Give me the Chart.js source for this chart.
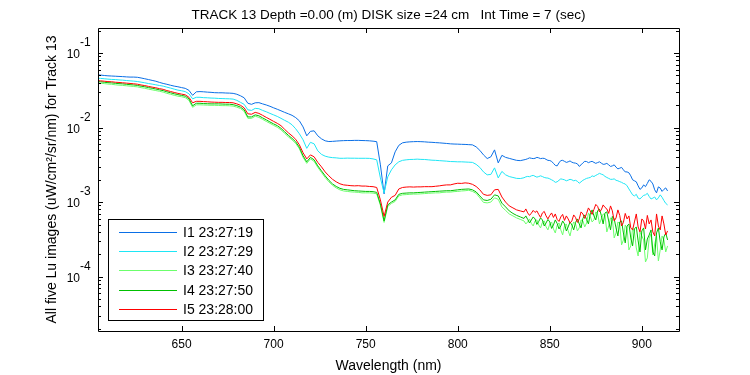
<!DOCTYPE html>
<html>
<head>
<meta charset="utf-8">
<script src="https://cdn.jsdelivr.net/npm/chart.js@4.4.1/dist/chart.umd.min.js"></script>
<style>
html,body{margin:0;padding:0;background:#fff;}
canvas{display:block;}
</style>
</head>
<body>
<canvas id="c" width="750" height="375"></canvas>
<script>
// ---------------- DATA ----------------
const wavelength = [
604,606,608,610,612,614,616,618,620,622,624,626,628,630,632,634,636,638,640,642,
644,646,648,650,652,654,656,658,660,662,664,666,668,670,672,674,676,678,680,682,
684,686,688,690,692,694,696,698,700,702,704,706,708,710,712,714,716,718,720,722,
724,726,728,730,732,734,736,738,740,742,744,746,748,750,752,754,756,758,760,762,
764,766,768,770,772,774,776,778,780,782,784,786,788,790,792,794,796,798,800,802,
804,806,808,810,812,814,816,818,820,822,824,826,828,830,832,834,
836,837,838,839,840,841,842,843,844,845,846,847,848,849,850,851,852,853,854,855,
856,857,858,859,860,861,862,863,864,865,866,867,868,869,870,871,872,873,874,875,
876,877,878,879,880,881,882,883,884,885,886,887,888,889,890,891,892,893,894,895,
896,897,898,899,900,901,902,903,904,905,906,907,908,909,910,911,912,913,914];

const I1 = [
0.0511,0.0506,0.0500,0.0495,0.0492,0.0489,0.0486,0.0483,0.0479,0.0476,
0.0476,0.0473,0.0463,0.0452,0.0441,0.0430,0.0419,0.0404,0.0391,0.0381,
0.0370,0.0360,0.0353,0.0344,0.0336,0.0316,0.0271,0.0302,0.0304,0.0302,
0.0299,0.0297,0.0294,0.0293,0.0293,0.0291,0.0290,0.0288,0.0280,0.0267,
0.0251,0.0212,0.0205,0.0215,0.0216,0.0208,0.0201,0.0193,0.0184,0.0176,
0.0168,0.0160,0.0153,0.0146,0.0136,0.0123,0.0102,0.00775,0.00890,0.00904,
0.00775,0.00706,0.00664,0.00649,0.00653,0.00659,0.00664,0.00668,0.00670,0.00670,
0.00673,0.00673,0.00670,0.00668,0.00664,0.00657,0.00647,0.00316,0.00129,0.00306,
0.00336,0.00472,0.00577,0.00624,0.00637,0.00643,0.00647,0.00649,0.00647,0.00643,
0.00637,0.00634,0.00628,0.00624,0.00618,0.00612,0.00605,0.00601,0.00599,0.00596,
0.00594,0.00590,0.00586,0.00551,0.00495,0.00430,0.00384,0.00405,0.00502,0.00336,
0.00424,0.00398,0.00386,0.00374,0.00363,0.00360,
0.00369,0.00374,0.00382,0.00392,0.00387,0.00383,0.00387,0.00398,0.00392,0.00383,
0.00387,0.00386,0.00374,0.00363,0.00361,0.00352,0.00331,0.00311,0.00306,0.00336,
0.00361,0.00363,0.00352,0.00341,0.00347,0.00357,0.00343,0.00336,0.00333,0.00326,
0.00301,0.00316,0.00336,0.00352,0.00350,0.00338,0.00347,0.00352,0.00341,0.00331,
0.00339,0.00347,0.00333,0.00321,0.00323,0.00331,0.00316,0.00301,0.00306,0.00316,
0.00294,0.00279,0.00285,0.00292,0.00271,0.00254,0.00254,0.00247,0.00225,0.00199,
0.00193,0.00187,0.00165,0.00148,0.00155,0.00170,0.00161,0.00178,0.00199,0.00190,
0.00175,0.00146,0.00133,0.00160,0.00154,0.00139,0.00148,0.00155,0.00141];

const I2 = [
0.0461,0.0457,0.0452,0.0447,0.0443,0.0441,0.0436,0.0433,0.0428,0.0424,
0.0420,0.0415,0.0407,0.0399,0.0390,0.0383,0.0375,0.0367,0.0360,0.0349,
0.0339,0.0328,0.0318,0.0312,0.0304,0.0284,0.0243,0.0255,0.0255,0.0252,
0.0251,0.0249,0.0248,0.0246,0.0245,0.0244,0.0243,0.0241,0.0232,0.0218,
0.0205,0.0173,0.0170,0.0181,0.0179,0.0170,0.0163,0.0155,0.0148,0.0141,
0.0133,0.0125,0.0118,0.0109,0.00962,0.00824,0.00684,0.00526,0.00634,0.00605,
0.00487,0.00437,0.00413,0.00401,0.00395,0.00392,0.00387,0.00387,0.00389,0.00388,
0.00388,0.00387,0.00387,0.00387,0.00386,0.00380,0.00369,0.00211,0.00133,0.00218,
0.00271,0.00316,0.00347,0.00363,0.00369,0.00373,0.00374,0.00377,0.00374,0.00373,
0.00369,0.00365,0.00363,0.00360,0.00357,0.00354,0.00350,0.00349,0.00347,0.00347,
0.00345,0.00343,0.00341,0.00321,0.00292,0.00254,0.00232,0.00235,0.00288,0.00211,
0.00258,0.00232,0.00220,0.00214,0.00208,0.00207,
0.00212,0.00218,0.00221,0.00219,0.00225,0.00228,0.00222,0.00216,0.00220,0.00225,
0.00220,0.00214,0.00211,0.00210,0.00205,0.00199,0.00193,0.00184,0.00187,0.00196,
0.00205,0.00202,0.00199,0.00193,0.00197,0.00202,0.00199,0.00193,0.00196,0.00190,
0.00179,0.00187,0.00196,0.00202,0.00208,0.00211,0.00214,0.00225,0.00220,0.00228,
0.00235,0.00243,0.00237,0.00232,0.00221,0.00214,0.00208,0.00202,0.00202,0.00205,
0.00196,0.00193,0.00188,0.00184,0.00178,0.00175,0.00165,0.00150,0.00137,0.00125,
0.00121,0.00127,0.00113,0.00110,0.00117,0.00123,0.00125,0.00131,0.00119,0.00110,
0.00113,0.00117,0.00107,0.00114,0.00125,0.00116,0.00105,0.000960,0.000916];

const I3 = [
0.0399,0.0394,0.0389,0.0384,0.0381,0.0375,0.0371,0.0368,0.0364,0.0360,
0.0356,0.0352,0.0343,0.0337,0.0328,0.0321,0.0314,0.0307,0.0299,0.0288,
0.0280,0.0271,0.0264,0.0259,0.0252,0.0232,0.0187,0.0202,0.0202,0.0201,
0.0200,0.0199,0.0199,0.0198,0.0197,0.0197,0.0196,0.0194,0.0188,0.0180,
0.0165,0.0133,0.0133,0.0142,0.0137,0.0129,0.0121,0.0114,0.0107,0.0101,
0.00933,0.00837,0.00751,0.00684,0.00614,0.00518,0.00398,0.00331,0.00380,0.00352,
0.00292,0.00250,0.00214,0.00187,0.00168,0.00155,0.00146,0.00141,0.00139,0.00137,
0.00136,0.00135,0.00133,0.00133,0.00133,0.00132,0.00129,0.000902,0.000533,0.000875,
0.000960,0.00102,0.00121,0.00125,0.00126,0.00127,0.00128,0.00128,0.00129,0.00130,
0.00131,0.00132,0.00133,0.00133,0.00135,0.00136,0.00136,0.00138,0.00139,0.00141,
0.00142,0.00144,0.00139,0.00131,0.00114,0.000990,0.000975,0.00100,0.00114,0.00109,
0.000861,0.000773,0.000693,0.000652,0.000613,0.000585,
0.000558,0.000509,0.000541,0.000594,0.000517,0.000478,0.000558,0.000576,0.000493,0.000450,
0.000533,0.000558,0.000464,0.000423,0.000509,0.000541,0.000436,0.000385,0.000486,0.000525,
0.000423,0.000362,0.000478,0.000509,0.000410,0.000351,0.000457,0.000541,0.000509,0.000410,
0.000450,0.000576,0.000558,0.000464,0.000525,0.000715,0.000642,0.000541,0.000576,0.000738,
0.000693,0.000509,0.000594,0.000693,0.000672,0.000397,0.000478,0.000613,0.000594,0.000330,
0.000385,0.000541,0.000509,0.000266,0.000310,0.000493,0.000436,0.000228,0.000258,0.000450,
0.000397,0.000242,0.000189,0.000397,0.000351,0.000310,0.000157,0.000178,0.000330,0.000373,
0.000195,0.000274,0.000351,0.000162,0.000228,0.000351,0.000310,0.000214,0.000258];

const I4 = [
0.0415,0.0412,0.0406,0.0401,0.0398,0.0393,0.0389,0.0386,0.0381,0.0377,
0.0373,0.0368,0.0359,0.0353,0.0344,0.0337,0.0329,0.0321,0.0313,0.0302,
0.0293,0.0284,0.0277,0.0270,0.0264,0.0243,0.0196,0.0212,0.0212,0.0210,
0.0209,0.0208,0.0208,0.0208,0.0207,0.0206,0.0206,0.0203,0.0197,0.0188,
0.0173,0.0139,0.0139,0.0148,0.0144,0.0135,0.0127,0.0119,0.0112,0.0106,
0.00977,0.00877,0.00787,0.00717,0.00643,0.00543,0.00417,0.00347,0.00398,0.00369,
0.00306,0.00262,0.00225,0.00196,0.00175,0.00162,0.00153,0.00148,0.00146,0.00144,
0.00142,0.00141,0.00140,0.00139,0.00139,0.00138,0.00135,0.000945,0.000558,0.000916,
0.00100,0.00107,0.00127,0.00131,0.00132,0.00133,0.00133,0.00134,0.00135,0.00136,
0.00137,0.00138,0.00139,0.00140,0.00141,0.00142,0.00142,0.00144,0.00146,0.00148,
0.00149,0.00150,0.00146,0.00137,0.00121,0.00107,0.00105,0.00109,0.00125,0.00121,
0.000966,0.000861,0.000761,0.000704,0.000662,0.000632,
0.000603,0.000652,0.000585,0.000525,0.000576,0.000632,0.000594,0.000501,0.000550,0.000613,
0.000576,0.000478,0.000525,0.000585,0.000541,0.000443,0.000493,0.000576,0.000517,0.000436,
0.000478,0.000558,0.000509,0.000410,0.000464,0.000541,0.000493,0.000423,0.000533,0.000594,
0.000509,0.000450,0.000603,0.000672,0.000585,0.000509,0.000693,0.000785,0.000652,0.000576,
0.000761,0.000809,0.000662,0.000509,0.000715,0.000738,0.000558,0.000423,0.000642,0.000594,
0.000450,0.000351,0.000541,0.000558,0.000385,0.000283,0.000478,0.000509,0.000330,0.000258,
0.000436,0.000464,0.000301,0.000214,0.000410,0.000450,0.000228,0.000320,0.000362,0.000423,
0.000214,0.000189,0.000385,0.000450,0.000292,0.000228,0.000340,0.000385,0.000310];

const I5 = [
0.0428,0.0424,0.0419,0.0414,0.0412,0.0406,0.0403,0.0399,0.0395,0.0391,
0.0387,0.0382,0.0373,0.0366,0.0357,0.0349,0.0342,0.0333,0.0326,0.0314,
0.0305,0.0296,0.0288,0.0281,0.0275,0.0255,0.0215,0.0225,0.0225,0.0223,
0.0222,0.0220,0.0219,0.0218,0.0218,0.0217,0.0217,0.0215,0.0208,0.0199,
0.0184,0.0153,0.0151,0.0160,0.0155,0.0146,0.0137,0.0129,0.0121,0.0114,
0.0106,0.00947,0.00850,0.00775,0.00695,0.00586,0.00458,0.00380,0.00430,0.00405,
0.00341,0.00297,0.00254,0.00225,0.00202,0.00187,0.00176,0.00170,0.00168,0.00166,
0.00165,0.00166,0.00164,0.00164,0.00162,0.00161,0.00157,0.00107,0.000642,0.00100,
0.00116,0.00123,0.00150,0.00157,0.00159,0.00160,0.00159,0.00160,0.00160,0.00161,
0.00161,0.00161,0.00163,0.00165,0.00168,0.00170,0.00170,0.00175,0.00179,0.00178,
0.00181,0.00179,0.00173,0.00162,0.00146,0.00127,0.00123,0.00125,0.00146,0.00148,
0.00117,0.00100,0.000888,0.000835,0.000785,0.000761,
0.000738,0.000809,0.000715,0.000662,0.000709,0.000773,0.000726,0.000761,0.000683,0.000622,
0.000715,0.000749,0.000652,0.000594,0.000662,0.000715,0.000622,0.000693,0.000585,0.000550,
0.000632,0.000683,0.000567,0.000652,0.000594,0.000525,0.000558,0.000672,0.000622,0.000533,
0.000594,0.000738,0.000693,0.000603,0.000704,0.000835,0.000761,0.000683,0.000797,0.000930,
0.000875,0.000738,0.000785,0.000916,0.000848,0.000809,0.000704,0.000888,0.000761,0.000558,
0.000613,0.000785,0.000662,0.000478,0.000533,0.000704,0.000594,0.000652,0.000450,0.000423,
0.000541,0.000693,0.000464,0.000397,0.000594,0.000558,0.000436,0.000662,0.000509,0.000576,
0.000397,0.000351,0.000693,0.000478,0.000423,0.000652,0.000509,0.000362,0.000410];

const seriesLabels = ['I1 23:27:19','I2 23:27:29','I3 23:27:40','I4 23:27:50','I5 23:28:00'];
const seriesColors = ['#0a6fe6','#1ee6f5','#6cff6c','#00c000','#ff0000'];
const xTickValues = [650,700,750,800,850,900];
const yDecades = [-1,-2,-3,-4];
const titleText = 'TRACK 13 Depth =0.00 (m) DISK size =24 cm   Int Time = 7 (sec)';
const xTitle = 'Wavelength (nm)';
const yTitle = 'All five Lu images (uW/cm\u00B2/sr/nm) for Track 13';

// ---------------- CHART ----------------
const seriesValues = [I1,I2,I3,I4,I5];
const datasets = seriesValues.map((vals, k) => ({
  label: seriesLabels[k],
  data: wavelength.map((w, i) => ({x: w, y: vals[i]})),
  borderColor: seriesColors[k],
  backgroundColor: seriesColors[k],
  borderWidth: 1,
  pointRadius: 0,
  tension: 0,
  fill: false,
  order: 5 - k
}));

const FONT = '"Liberation Sans", Arial, sans-serif';

const matlabAxes = {
  id: 'matlabAxes',
  afterDraw(chart) {
    const {ctx, chartArea: a, scales: {x, y}} = chart;
    ctx.save();
    ctx.strokeStyle = '#000';
    ctx.lineWidth = 1;
    ctx.beginPath();
    ctx.rect(Math.round(a.left) + 0.5, Math.round(a.top) + 0.5, Math.round(a.right - a.left), Math.round(a.bottom - a.top));
    ctx.stroke();

    ctx.beginPath();
    xTickValues.forEach(v => {
      const px = Math.round(x.getPixelForValue(v)) + 0.5;
      ctx.moveTo(px, a.bottom); ctx.lineTo(px, a.bottom - 5);
      ctx.moveTo(px, a.top); ctx.lineTo(px, a.top + 5);
    });
    yDecades.concat([-5]).forEach(d => {
      for (let m = 1; m <= 9; m++) {
        const v = m * Math.pow(10, d);
        if (v < y.min || v > y.max) continue;
        const py = Math.round(y.getPixelForValue(v)) + 0.5;
        const len = m === 1 ? 5 : 3;
        ctx.moveTo(a.left, py); ctx.lineTo(a.left + len, py);
        ctx.moveTo(a.right, py); ctx.lineTo(a.right - len, py);
      }
    });
    ctx.stroke();

    ctx.fillStyle = '#000';
    ctx.font = '12px ' + FONT;
    ctx.textAlign = 'center';
    ctx.textBaseline = 'alphabetic';
    xTickValues.forEach(v => {
      ctx.fillText(String(v), x.getPixelForValue(v), a.bottom + 17);
    });
    yDecades.forEach(d => {
      const py = y.getPixelForValue(Math.pow(10, d));
      ctx.textAlign = 'right';
      ctx.fillText('10', 80, py + 5);
      ctx.textAlign = 'left';
      ctx.fillText(String(d), 80, py - 7);
    });

    ctx.font = '14px ' + FONT;
    ctx.textAlign = 'center';
    ctx.fillText(xTitle, (a.left + a.right) / 2, 370);
    ctx.save();
    ctx.translate(56, (a.top + a.bottom) / 2);
    ctx.rotate(-Math.PI / 2);
    ctx.fillText(yTitle, 0, 0);
    ctx.restore();
    ctx.font = '13.5px ' + FONT;
    ctx.fillText(titleText, (a.left + a.right) / 2, 19);

    const lx = 108.5, ly = 219.5, lw = 155, lh = 101;
    ctx.fillStyle = '#fff';
    ctx.fillRect(lx, ly, lw, lh);
    ctx.strokeStyle = '#000';
    ctx.strokeRect(lx, ly, lw, lh);
    ctx.font = '14px ' + FONT;
    ctx.textAlign = 'left';
    ctx.textBaseline = 'middle';
    seriesLabels.forEach((lab, k) => {
      const ry = Math.round(231.7 + k * 19.35) + 0.5;
      ctx.strokeStyle = seriesColors[k];
      ctx.beginPath();
      ctx.moveTo(119, ry); ctx.lineTo(177, ry);
      ctx.stroke();
      ctx.fillStyle = '#000';
      ctx.fillText(lab, 183, ry + 1);
    });
    ctx.restore();
  }
};

new Chart(document.getElementById('c'), {
  type: 'line',
  data: { datasets },
  options: {
    responsive: false,
    animation: false,
    devicePixelRatio: 1,
    layout: { padding: { left: 0, right: 71, top: 28, bottom: 0 } },
    plugins: { legend: { display: false }, tooltip: { enabled: false }, title: { display: false } },
    scales: {
      x: {
        type: 'linear', min: 604.6, max: 920.2,
        afterFit: s => { s.height = 44; },
        ticks: { display: false }, grid: { display: false }, border: { display: false }
      },
      y: {
        type: 'logarithmic', min: 1.86e-5, max: 0.217,
        afterFit: s => { s.width = 98; },
        ticks: { display: false }, grid: { display: false }, border: { display: false }
      }
    }
  },
  plugins: [matlabAxes]
});
</script>
</body>
</html>
